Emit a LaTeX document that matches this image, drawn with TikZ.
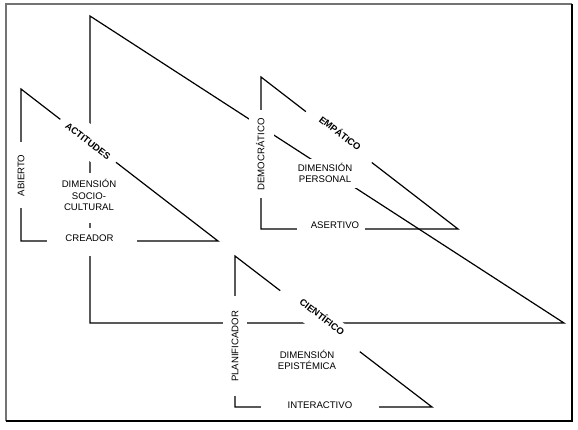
\documentclass[tikz,border=0pt]{standalone}
\usepackage{fontspec}
\setmainfont{Liberation Sans}
\definecolor{framegray}{RGB}{115,115,115}
\begin{document}
\begin{tikzpicture}[x=1pt,y={(0pt,-1pt)},
  tri/.style={draw=black, line width=1.2pt, line join=miter},
  mask/.style={fill=white, draw=none, inner sep=0pt, outer sep=0pt},
  lbl/.style={inner sep=0pt, font=\fontsize{9.6}{11.5}\selectfont, align=center, text=black},
  one/.style={text height=6.9pt, text depth=0pt},
  blbl/.style={inner sep=0pt, font=\bfseries\fontsize{9.4}{11}\selectfont, text=black, text height=6.7pt, text depth=0pt},
  slant/.style={rotate=-37.6}]

\useasboundingbox (0,0) rectangle (578,429);
\fill[white] (0,0) rectangle (578,429);

% frame
\coordinate (F1) at (6,421);
\coordinate (F2) at (6,4);
\coordinate (F3) at (572,4);
\draw[framegray, line width=1.6pt] (F1) -- (F2) -- (F3);
\draw[black, line width=2pt] (F3) -- (572,421) -- (F1);

% triangle vertices
\coordinate (B1) at (90,16);
\coordinate (B2) at (90,323);
\coordinate (B3) at (564,323);
\coordinate (A1) at (21,89);
\coordinate (A2) at (21,241);
\coordinate (A3) at (218,241);
\coordinate (E1) at (261,77);
\coordinate (E2) at (261,229);
\coordinate (E3) at (458,229);
\coordinate (C1) at (235,256);
\coordinate (C2) at (235,407);
\coordinate (C3) at (432,407);

\draw[tri] (B1) -- (B2) -- (B3) -- cycle;
\draw[tri] (A1) -- (A2) -- (A3) -- cycle;
\draw[tri] (E1) -- (E2) -- (E3) -- cycle;
\draw[tri] (C1) -- (C2) -- (C3) -- cycle;

% white masks that open the lines behind the labels
\node[mask, slant, minimum width=70, minimum height=30] (mAct) at (88,141) {};
\node[mask, slant, minimum width=83, minimum height=20] (mEmp) at (338.5,137.5) {};
\node[mask, slant, minimum width=100, minimum height=24] (mCie) at (320.5,320.5) {};
\node[mask, minimum width=14, minimum height=66] (mAbi) at (21,175) {};
\node[mask, minimum width=25, minimum height=88] (mDem) at (261,154) {};
\node[mask, minimum width=24, minimum height=100] (mPla) at (235,346) {};
\node[mask, minimum width=60, minimum height=50] (mSoc) at (90,198) {};
\node[mask, minimum width=90, minimum height=28] (mCre) at (92,242) {};
\node[mask, minimum width=63, minimum height=29] (mPer) at (325.5,173.5) {};
\node[mask, minimum width=68, minimum height=18] (mAse) at (331,229) {};
\node[mask, minimum width=118, minimum height=18] (mInt) at (320,407) {};

% labels
\node[blbl, slant] (tAct) at (88,141) {ACTITUDES};
\node[blbl, slant] (tEmp) at (340,133.5) {EMPÁTICO};
\node[blbl, slant] (tCie) at (322,317) {CIENTÍFICO};
\node[lbl, one, rotate=90] (tAbi) at (21,175.5) {ABIERTO};
\node[lbl, one, rotate=90] (tDem) at (261,154.5) {DEMOCRÁTICO};
\node[lbl, one, rotate=90] (tPla) at (235,346.5) {PLANIFICADOR};
\node[lbl] (tSoc) at (89,195) {DIMENSIÓN\\SOCIO-\\CULTURAL};
\node[lbl, one] (tCre) at (89.5,238.5) {CREADOR};
\node[lbl] (tPer) at (325,173) {DIMENSIÓN\\PERSONAL};
\node[lbl, one] (tAse) at (335,225.5) {ASERTIVO};
\node[lbl] (tEpi) at (307,360) {DIMENSIÓN\\EPISTÉMICA};
\node[lbl, one] (tInt) at (320,405) {INTERACTIVO};
\end{tikzpicture}
\end{document}
